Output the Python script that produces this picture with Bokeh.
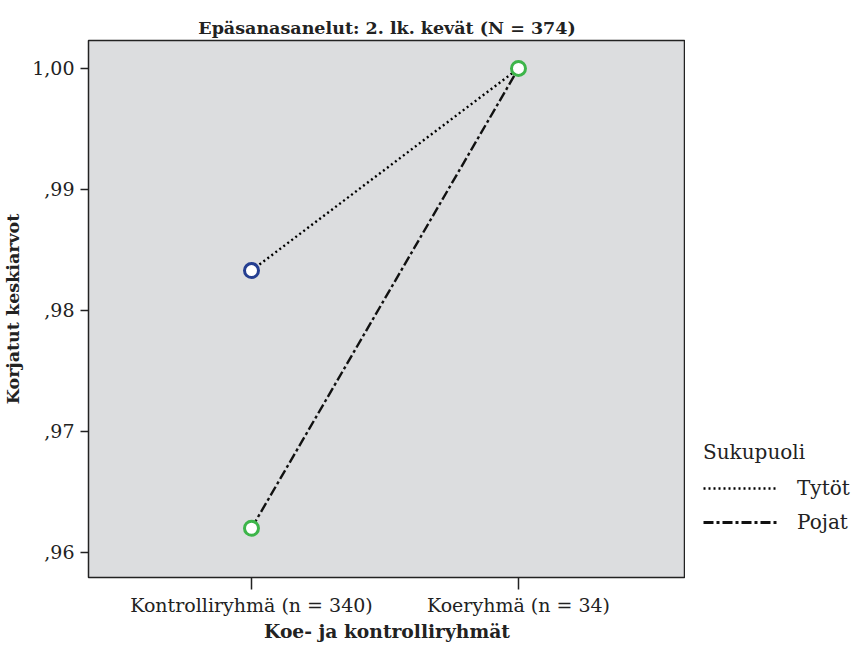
from bokeh.plotting import figure
from bokeh.layouts import row
from bokeh.models import Range1d, FixedTicker, Legend, LegendItem
from bokeh.embed import file_html
from bokeh.resources import INLINE

groups = ["Kontrolliryhmä (n = 340)", "Koeryhmä (n = 34)"]
group_pos = [0, 1]
tytot = [0.9833, 1.000]
pojat = [0.962, 1.000]
y_ticks = [0.96, 0.97, 0.98, 0.99, 1.00]
y_tick_labels = [",96", ",97", ",98", ",99", "1,00"]
series_names = ["Tytöt", "Pojat"]
legend_title = "Sukupuoli"

FONT = "DejaVu Serif"
INK = "#222222"
TYT_DASH = "2 3"
POJ_DASH = "10 3 3 3"

p = figure(width=685, height=649, output_backend="svg", toolbar_location=None,
           x_range=Range1d(-0.6105, 1.6255), y_range=Range1d(0.95793, 1.00231),
           min_border_left=88, min_border_right=0, min_border_top=40, min_border_bottom=72)
p.title.text = "Epäsanasanelut: 2. lk. kevät (N = 374)"
p.title.align = "center"
p.title.text_font = FONT
p.title.text_font_size = "17.5px"
p.title.text_font_style = "bold"
p.title.text_color = INK
p.title.offset = -10
p.title.standoff = 6

p.background_fill_color = "#dcdddf"
p.border_fill_color = "white"
p.outline_line_color = INK
p.outline_line_width = 1.5
p.grid.visible = False

p.xaxis.ticker = FixedTicker(ticks=group_pos)
p.xaxis.major_label_overrides = {g: l for g, l in zip(group_pos, groups)}
p.yaxis.ticker = FixedTicker(ticks=y_ticks)
p.yaxis.major_label_overrides = {t: l for t, l in zip(y_ticks, y_tick_labels)}
for ax in (p.xaxis, p.yaxis):
    ax.major_label_text_font = FONT
    ax.major_label_text_font_size = "19px"
    ax.major_label_text_color = INK
    ax.axis_label_text_font = FONT
    ax.axis_label_text_font_style = "bold"
    ax.axis_label_text_color = INK
    ax.minor_tick_line_color = None
    ax.axis_line_color = None
    ax.major_tick_line_color = INK
    ax.major_tick_line_width = 1.5
    ax.major_tick_in = 0
    ax.major_tick_out = 12
p.yaxis.major_tick_out = 8
p.xaxis.axis_label_text_font_size = "18.7px"
p.yaxis.axis_label_text_font_size = "17.5px"
p.xaxis.axis_label = "Koe- ja kontrolliryhmät"
p.yaxis.axis_label = "Korjatut keskiarvot"
p.xaxis.major_label_standoff = 4
p.xaxis.axis_label_standoff = 1
p.yaxis.major_label_standoff = 6
p.yaxis.axis_label_standoff = 6

p.line(group_pos, tytot, line_color="#000000", line_width=2.4, line_dash=TYT_DASH)
p.line(group_pos, pojat, line_color="#111111", line_width=2.4, line_dash=POJ_DASH)

p.scatter([group_pos[0]], [tytot[0]], marker="circle", size=14, fill_color="white",
          line_color="#253f91", line_width=3)
p.scatter([group_pos[1], group_pos[0]], [pojat[1], pojat[0]], marker="circle", size=14,
          fill_color="white", line_color="#3db54a", line_width=3)

# legend panel to the right of the plot
q = figure(width=166, height=649, output_backend="svg", toolbar_location=None,
           x_range=Range1d(0, 1), y_range=Range1d(0, 1),
           min_border=0)
q.axis.visible = False
q.grid.visible = False
q.outline_line_color = None
q.background_fill_color = "white"
q.border_fill_color = "white"
# legend-only renderers, kept outside the visible range
r1 = q.line([5, 6], [5, 6], line_color="#000000", line_width=2.4, line_dash=TYT_DASH)
r2 = q.line([5, 6], [5, 6], line_color="#111111", line_width=2.8, line_dash=POJ_DASH)

legend = Legend(items=[LegendItem(label=series_names[0], renderers=[r1]),
                       LegendItem(label=series_names[1], renderers=[r2])],
                location=(18, 43), title=legend_title,
                background_fill_alpha=0, border_line_color=None,
                glyph_width=74, glyph_height=22, label_height=22, label_standoff=20,
                label_text_font=FONT, label_text_font_size="20px",
                label_text_color=INK,
                title_text_font=FONT, title_text_font_size="20px",
                title_text_font_style="normal", title_text_color=INK,
                spacing=10, padding=0, margin=0, title_standoff=12)
q.add_layout(legend, "center")

layout = row(p, q)
open("out.html", "w").write(file_html(layout, INLINE))
